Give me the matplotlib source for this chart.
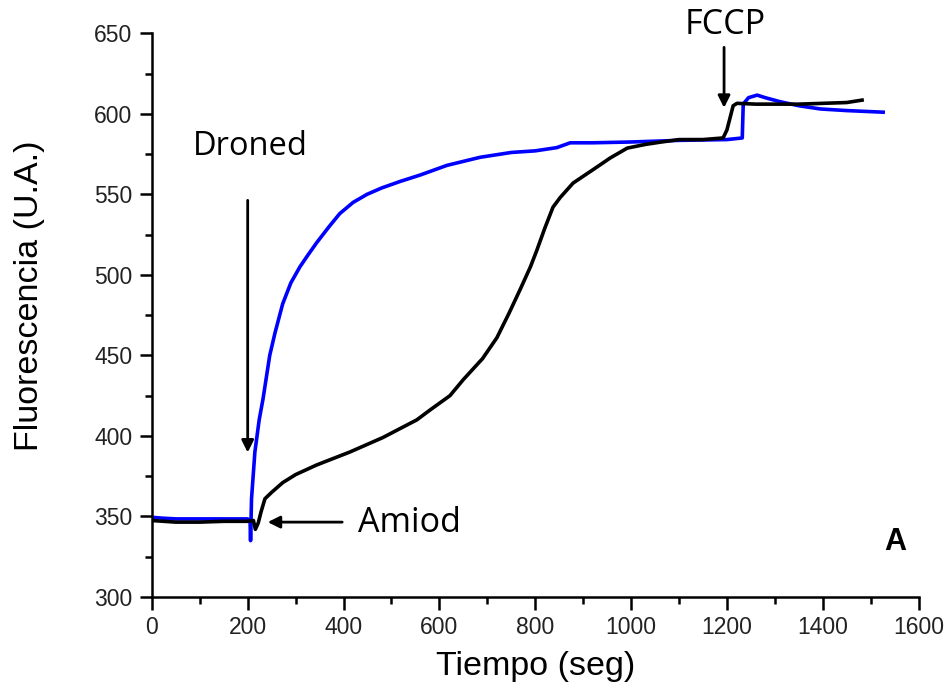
import matplotlib
matplotlib.use("Agg")
import matplotlib.pyplot as plt
from matplotlib.ticker import MultipleLocator

# Blue trace (Droned)
blue_t = [0, 20, 50, 100, 150, 200, 205, 206, 208, 215, 224, 232, 246, 257, 273, 290, 309, 325,
          344, 370, 392, 420, 449, 480, 518, 560, 616, 685, 750, 800, 845, 873, 920, 1000, 1100,
          1200, 1232, 1234, 1245, 1263, 1280, 1311, 1350, 1395, 1450, 1526]
blue_f = [349.5, 349, 348.5, 348.5, 348.5, 348.5, 347, 335, 361, 390, 410, 423, 450, 464, 482, 495,
          505, 512, 520, 530, 538, 545, 550, 554, 558, 562, 568, 573, 576, 577, 579, 582, 582,
          582.5, 583.5, 584, 585, 606, 610, 611.6, 610, 607.5, 605, 603, 602, 601]

# Black trace (Amiod)
black_t = [0, 50, 100, 150, 200, 212, 216, 222, 228, 236, 250, 273, 300, 344, 413, 482, 553, 580,
           622, 650, 690, 720, 745, 768, 790, 803, 820, 837, 852, 879, 929, 956, 992, 1030, 1061,
           1100, 1150, 1192, 1200, 1213, 1221, 1260, 1300, 1350, 1400, 1450, 1482]
black_f = [347.5, 346.5, 346.5, 347, 347, 347.5, 342, 346, 353, 361, 365, 371, 376, 382, 390, 399,
           410, 416, 425, 435, 448, 461, 476, 490.6, 505, 515, 529, 542, 548, 557, 567, 572.5,
           578.7, 581, 582.4, 584, 584, 585, 590, 605, 606.5, 606, 606, 606, 606.5, 607, 608.5]

xlabel = "Tiempo (seg)"
ylabel = "Fluorescencia (U.A.)"

fig = plt.figure(figsize=(9.49, 6.93), dpi=100)
ax = fig.add_axes([0.160, 0.1385, 0.808, 0.8135])

ax.plot(blue_t, blue_f, color="#0000ff", lw=2.6, solid_joinstyle="round")
ax.plot(black_t, black_f, color="black", lw=2.6, solid_joinstyle="round")

ax.set_xlim(0, 1600)
ax.set_ylim(300, 650)
ax.xaxis.set_major_locator(MultipleLocator(200))
ax.xaxis.set_minor_locator(MultipleLocator(100))
ax.yaxis.set_major_locator(MultipleLocator(50))
ax.yaxis.set_minor_locator(MultipleLocator(25))

for s in ["top", "right"]:
    ax.spines[s].set_visible(False)
for s in ["left", "bottom"]:
    ax.spines[s].set_linewidth(1.8)

ax.tick_params(which="major", direction="out", length=9, width=1.8, labelsize=16.5, pad=5,
               labelfontfamily="Liberation Sans", labelcolor="#222222")
ax.tick_params(which="minor", direction="out", length=5, width=1.8)

ax.set_xlabel(xlabel, fontsize=24.5, family="Liberation Sans", labelpad=8)
ax.set_ylabel(ylabel, fontsize=24.5, family="Liberation Sans")
ax.yaxis.label.set_va("center")
ax.yaxis.set_label_coords(-0.159, 0.535)

ann = dict(arrowstyle="-|>", color="black", lw=2, mutation_scale=18)
ax.annotate("", xy=(200, 388), xytext=(200, 548), arrowprops=ann)
ax.text(205, 580, "Droned", fontsize=23.5, family="Open Sans", ha="center", va="center")

ax.annotate("", xy=(236, 346.5), xytext=(403, 346.5), arrowprops=ann)
ax.text(430, 346, "Amiod", fontsize=24.5, family="Open Sans", ha="left", va="center")

ax.annotate("", xy=(1194, 602), xytext=(1194, 643), arrowprops=ann, annotation_clip=False)
ax.text(1196, 655, "FCCP", fontsize=24.5, family="Open Sans", ha="center", va="center", clip_on=False)

ax.text(1551, 334, "A", fontsize=22, family="Liberation Sans", weight="bold", ha="center", va="center")

fig.savefig("out.png", dpi=100)
